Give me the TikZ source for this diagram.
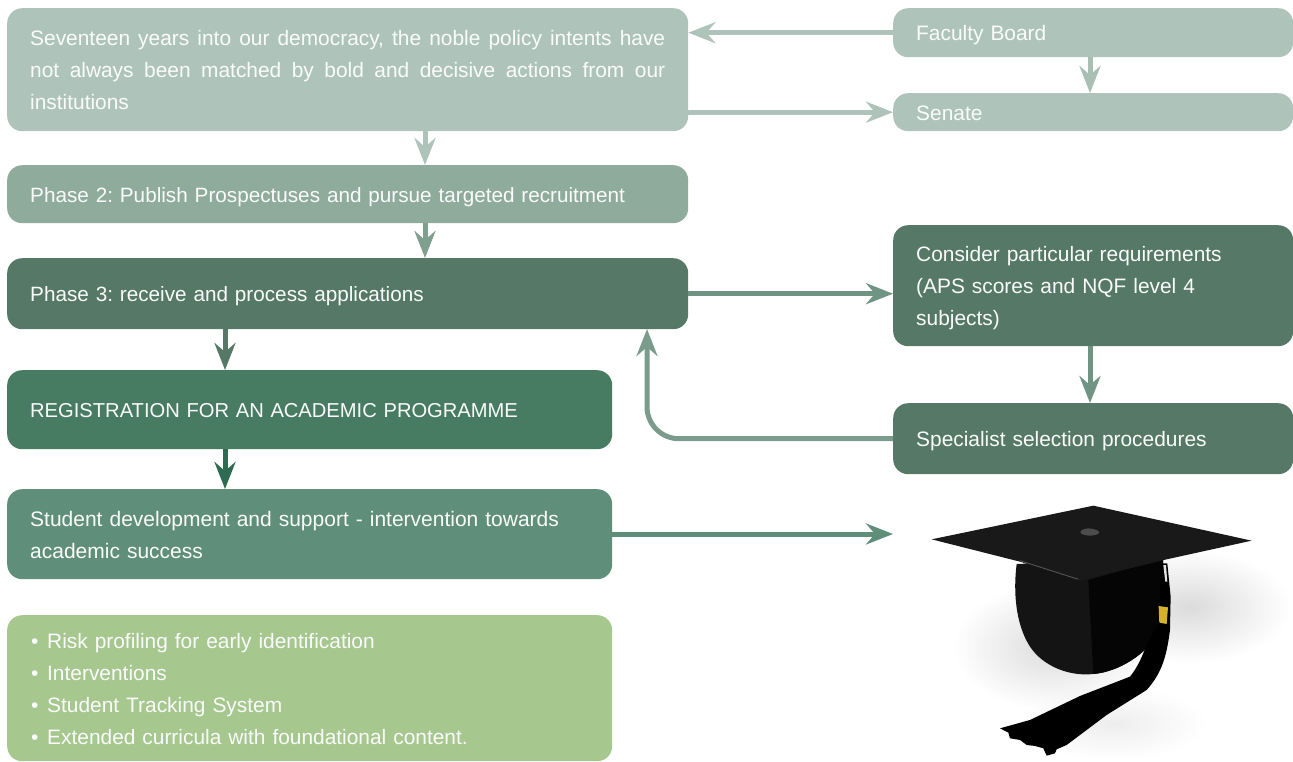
\documentclass[tikz,border=0pt]{standalone}
\usepackage{fontspec}
\setmainfont{Liberation Sans}
\usetikzlibrary{arrows.meta,fadings}
\definecolor{cA}{HTML}{AEC4BA}
\definecolor{cB}{HTML}{8EAB9C}
\definecolor{cC}{HTML}{557966}
\definecolor{cD}{HTML}{477C63}
\definecolor{cE}{HTML}{5F8E7A}
\definecolor{cF}{HTML}{A6C78E}
\definecolor{aC}{HTML}{6F9483}
\definecolor{aB}{HTML}{7F9F8F}
\definecolor{aJ}{HTML}{7B9B8D}
\definecolor{aD}{HTML}{2F6B52}
\definecolor{aE}{HTML}{5F8E7A}
\newcommand{\bul}{\makebox[17pt][l]{\hspace{1pt}•}}
\tikzfading[name=softblob,inner color=transparent!0,outer color=transparent!100]
\tikzset{
  x=1pt,y=-1pt,
  boxnode/.style={anchor=north west,rounded corners=15pt,inner xsep=23pt,inner ysep=0pt,
    text=white!94!cA,font=\fontsize{20.9}{32}\selectfont\frenchspacing,align=left,
    execute at begin node={\leavevmode\rule{0pt}{23pt}},
    execute at end node={\rule[-7pt]{0pt}{7pt}}},
  conn/.style={line width=5pt,-{Stealth[length=27pt,width=21pt,inset=9pt]}},
  shadowblob/.style={fill=black,path fading=softblob},
}
\begin{document}
\begin{tikzpicture}
\useasboundingbox (0,0) rectangle (1293,761);
\node[boxnode,fill=cA,minimum width=681pt,minimum height=123pt,text width=635pt,align=justify] (a) at (7,8)
  {Seventeen years into our democracy, the noble policy intents have not always been matched by bold and decisive actions from our \mbox{institutions}};
\node[boxnode,fill=cB,minimum width=681pt,minimum height=58pt,text width=635pt,font=\fontsize{20.7}{32}\selectfont\frenchspacing] (b) at (7,165)
  {Phase 2: Publish Prospectuses and pursue targeted recruitment};
\node[boxnode,fill=cC,minimum width=681pt,minimum height=71pt,text width=635pt,font=\fontsize{20.7}{32}\selectfont\frenchspacing] (c) at (7,258)
  {Phase 3: receive and process applications};
\node[boxnode,fill=cD,minimum width=605pt,minimum height=79pt,text width=559pt,font=\fontsize{20.15}{32}\selectfont\frenchspacing] (d) at (7,370)
  {REGISTRATION FOR AN ACADEMIC PROGRAMME};
\node[boxnode,fill=cE,minimum width=605pt,minimum height=90pt,text width=559pt,font=\fontsize{21}{32}\selectfont\frenchspacing] (e) at (7,489)
  {Student development and support - intervention towards\\academic success};
\node[boxnode,fill=cF,minimum width=605pt,minimum height=146pt,text width=559pt] (f) at (7,615)
  {\bul Risk profiling for early identification\\\bul Interventions\\\bul Student Tracking System\\\bul Extended curricula with foundational content.};
\node[boxnode,fill=cA,minimum width=400pt,minimum height=49pt,text width=354pt] (g) at (893,8) {Faculty Board};
\node[boxnode,fill=cA,minimum width=400pt,minimum height=38pt,text width=354pt] (h) at (893,93) {Senate};
\node[boxnode,fill=cC,minimum width=400pt,minimum height=121pt,text width=354pt] (i) at (893,225)
  {Consider particular requirements\\(APS scores and NQF level 4\\subjects)};
\node[boxnode,fill=cC,minimum width=400pt,minimum height=71pt,text width=354pt] (j) at (893,403) {Specialist selection procedures};
% hat (coordinates are those of a 3x crop)
\begin{scope}[shift={(880,490)},x=0.3333pt,y=-0.3333pt]
  \fill[shadowblob,opacity=.14] (930,350) ellipse (300 and 170);
  \fill[shadowblob,opacity=.14] (520,470) ellipse (300 and 190);
  \fill[shadowblob,opacity=.07] (700,700) ellipse (280 and 110);
  \fill[black!92!white] (410,222) .. controls (400,300) and (405,400) .. (450,470)
    .. controls (490,530) and (570,560) .. (640,552)
    .. controls (720,545) and (800,490) .. (835,430) -- (850,205) -- cycle;
  \fill[black!98!white] (625,270) -- (850,205) -- (835,430) .. controls (800,490) and (720,545) .. (640,552) -- cycle;
  \fill[black!90!white] (155,148) -- (640,47) -- (1115,152) -- (860,208) -- (600,272) -- (420,215) -- cycle;
  \fill[black!70!white] (625,115) .. controls (595,118) and (590,135) .. (630,137)
     .. controls (670,135) and (665,118) .. (625,115) -- cycle;
  \draw[black!65!white,line width=0.8pt] (420,212) -- (595,268);
  \fill[black] (845,220) -- (862,220) -- (872,320) -- (870,420)
     .. controls (860,500) and (845,550) .. (800,600)
     -- (680,675) -- (560,765) -- (530,778) -- (525,790) -- (500,797) -- (490,775) -- (465,768) -- (440,765)
     -- (420,750) -- (390,745) -- (385,728) -- (360,715) -- (450,690)
     -- (600,618) -- (750,560) .. controls (775,530) and (790,490) .. (800,465) -- (835,400) -- cycle;
  \fill[black!10!white] (850,225) -- (858,225) -- (862,275) -- (856,275) -- cycle;
  \fill[black!25!yellow!70!orange] (836,348) -- (864,352) -- (860,402) -- (838,398) -- cycle;
\end{scope}
\coordinate (hat) at (893,534);
\coordinate (ejoin) at (e.east |- hat);
% connectors
\draw[conn,cA] (g.west) -- (g.west -| a.east);
\draw[conn,cA] (h.west -| a.east) -- (h.west);
\draw[conn,cA!80!cB] (g.south -| 1090,0) -- (h.north -| 1090,0);
\draw[conn,cA] (425,131) -- (425,165);
\draw[conn,aB] (425,223) -- (425,258);
\draw[conn,aC] (c.east) -- (c.east -| i.west);
\draw[conn,aC] (1090,346) -- (1090,403);
\draw[conn,aJ,rounded corners=32pt] (j.west) -- (j.west -| 647,0) -- (647,329);
\draw[conn,cC] (225,329) -- (225,370);
\draw[conn,aD] (225,449) -- (225,489);
\draw[conn,aE] (ejoin) -- (hat);
\end{tikzpicture}
\end{document}
